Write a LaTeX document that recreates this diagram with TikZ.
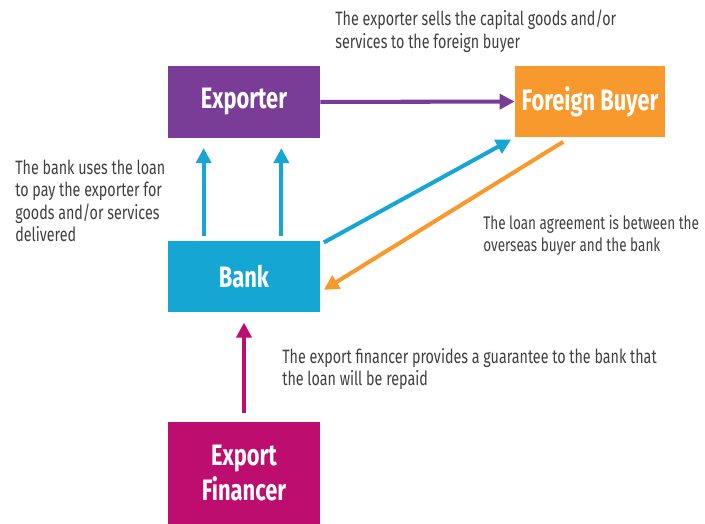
\documentclass[tikz,border=0pt]{standalone}
\usepackage{fontspec}
\setmainfont{Fira Sans}[FakeStretch=0.74]
\usetikzlibrary{arrows.meta,positioning,calc}
\definecolor{expurple}{RGB}{122,61,151}
\definecolor{buyorange}{RGB}{247,153,44}
\definecolor{bankcyan}{RGB}{21,166,212}
\definecolor{finmagenta}{RGB}{189,14,111}
\definecolor{notegray}{RGB}{64,64,64}

\begin{document}
\begin{tikzpicture}[
  party/.style={minimum width=3.04cm,minimum height=1.43cm,inner sep=0pt,
    text=white,font=\fontsize{16.8}{19.5}\selectfont\bfseries,align=center},
  note/.style={anchor=north west,inner sep=0pt,align=left,text=notegray,
    font=\fontsize{11}{12.6}\selectfont},
  flow/.style={line width=2.3pt,-{Triangle[length=0.3cm,width=0.3cm]}}
]
\useasboundingbox (0,0) rectangle (14.1,-10.48);

% --- the four parties ---
\node[party,fill=expurple] (exporter) at (4.88,-2.04) {Exporter};
\node[party,fill=buyorange,minimum width=3.0cm] (buyer) at (11.8,-2.03) {Foreign Buyer};
\node[party,fill=bankcyan] (bank) at (4.88,-5.53) {Bank};
\node[party,fill=finmagenta,minimum height=2.04cm] (financer) at (4.88,-9.46) {Export\\Financer};

% --- flows between them ---
\draw[flow,expurple] (exporter) -- (buyer);
\draw[flow,bankcyan,shorten <=0.08cm,shorten >=0.2cm]
  ([xshift=0.72cm]bank.north west) -- ([xshift=0.72cm]exporter.south west);
\draw[flow,bankcyan,shorten <=0.08cm,shorten >=0.2cm]
  ([xshift=-0.78cm]bank.north east) -- ([xshift=-0.78cm]exporter.south east);
\draw[flow,bankcyan,shorten <=0.08cm,shorten >=0.08cm]
  ([yshift=-0.08cm]bank.north east) -- (buyer.south west);
\draw[flow,buyorange,shorten <=0.16cm,shorten >=0.08cm]
  ([xshift=-0.4cm]buyer.south) -- ([yshift=-0.31cm]bank.east);
\draw[flow,finmagenta,shorten <=0.18cm,shorten >=0.2cm] (financer) -- (bank);

% --- notes ---
\node[note] (sells) at (6.7,-0.2) {The exporter sells the capital goods and/or\\services to the foreign buyer};
\node[note] (pays) at (0.3,-3.2) {The bank uses the loan\\to pay the exporter for\\goods and/or services\\delivered};
\node[note,font=\fontsize{10.4}{12.6}\selectfont] (loan) at (9.66,-4.3) {The loan agreement is between the\\overseas buyer and the bank};
\node[note] (guar) at (5.64,-6.96) {The export financer provides a guarantee to the bank that\\the loan will be repaid};
\end{tikzpicture}
\end{document}
